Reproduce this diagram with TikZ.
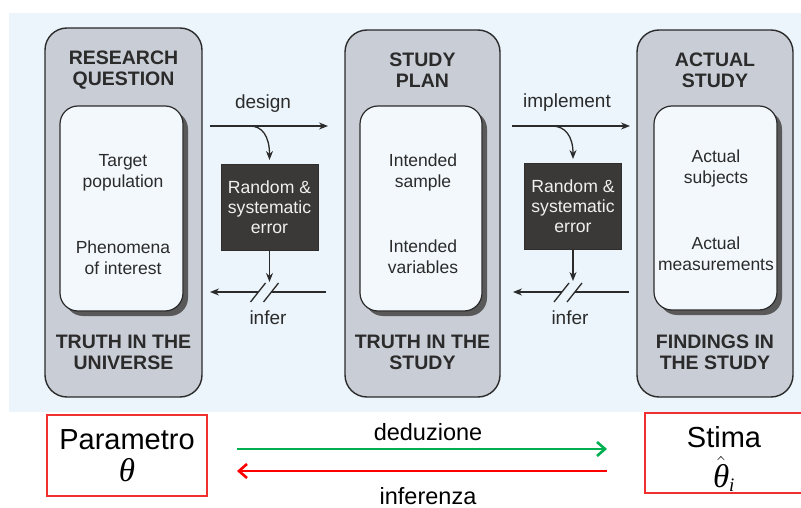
\RequirePackage{fix-cm}
\documentclass[tikz,border=0pt]{standalone}
\usepackage{fontspec}
\setmainfont{Liberation Sans}
\newfontfamily\thetafont{Liberation Serif}
\usetikzlibrary{arrows.meta,shadows}
\definecolor{panel}{HTML}{EBF5FB}
\definecolor{outerfill}{HTML}{C9CDD6}
\definecolor{innerfill}{HTML}{F2F8FC}
\definecolor{darkbox}{HTML}{3B3937}
\definecolor{ink}{HTML}{2B2B2B}
\definecolor{grn}{HTML}{00B050}
\definecolor{rd}{HTML}{FF0000}
\definecolor{boxred}{HTML}{F03030}
\newcommand{\thsym}{\hbox{\fontsize{33}{33}\selectfont\thetafont\itshape θ}}
\begin{document}
\begin{tikzpicture}[x=1pt,y=-1pt,
  outerbox/.style={draw=ink, line width=1.4pt, fill=outerfill, rounded corners=22pt, inner sep=0pt},
  innerbox/.style={draw=ink, line width=1.2pt, fill=innerfill, rounded corners=18pt, inner sep=0pt,
     drop shadow={shadow xshift=5pt,shadow yshift=-5pt,fill=black!65,opacity=1}},
  title/.style={font=\fontsize{19.5}{21}\selectfont\bfseries, text=ink, align=center},
  body/.style={font=\fontsize{17.5}{21}\selectfont, text=ink, align=center},
  lab/.style={font=\fontsize{19}{21}\selectfont, text=ink},
  errbox/.style={fill=darkbox, draw=darkbox!80!black, text=white!94!black,
     font=\fontsize{17.6}{20}\selectfont, align=center, minimum width=97pt, minimum height=86pt, inner sep=0pt},
  arr/.style={draw=ink, line width=1.3pt, -{Stealth[length=9pt,width=7pt]}},
  plain/.style={draw=ink, line width=1.3pt},
  big/.style={font=\fontsize{29}{34}\selectfont, align=center, text=black},
  redbox/.style={draw=boxred, line width=1.3pt, inner sep=0pt},
  bigarr/.style={line width=2.6pt, -{Straight Barb[length=8pt,width=14pt,line width=2.6pt]}},
  botlab/.style={font=\fontsize{23.5}{26}\selectfont, text=black, inner sep=0pt}
]
\useasboundingbox (0,0) rectangle (801,508);
\fill[panel] (9,13) rectangle (801,412);

% outer boxes
\node[outerbox, minimum width=157pt, minimum height=369pt] (b1) at (123.5,212.5) {};
\node[outerbox, minimum width=155pt, minimum height=367pt] (b2) at (422.5,213.5) {};
\node[outerbox, minimum width=156pt, minimum height=367pt] (b3) at (715,213.5) {};

% inner boxes
\node[innerbox, minimum width=123pt, minimum height=205pt] (i1) at (121.5,208.5) {};
\node[innerbox, minimum width=122pt, minimum height=205pt] (i2) at (421,208.5) {};
\node[innerbox, minimum width=123pt, minimum height=204pt] (i3) at (715.5,208) {};

% titles
\node[title] (t1) at (123.5,70.5) {RESEARCH\\QUESTION};
\node[title] (t2) at (422.5,70.5) {STUDY\\PLAN};
\node[title] (t3) at (715,70.5) {ACTUAL\\STUDY};
\node[title] (u1) at (123.5,352.5) {TRUTH IN THE\\UNIVERSE};
\node[title] (u2) at (422.5,352.5) {TRUTH IN THE\\STUDY};
\node[title] (u3) at (715,352.5) {FINDINGS IN\\THE STUDY};

% inner texts
\node[body] (p1) at (123,173) {Target\\population};
\node[body] (p2) at (123,258) {Phenomena\\of interest};
\node[body] (q1) at (423,172) {Intended\\sample};
\node[body] (q2) at (423,257) {Intended\\variables};
\node[body] (r1) at (716,168) {Actual\\subjects};
\node[body] (r2) at (716,254) {Actual\\measurements};

% error boxes
\node[errbox] (e1) at (269.5,207) {Random \&\\systematic\\error};
\node[errbox] (e2) at (573,206) {Random \&\\systematic\\error};

% design arrows
\coordinate (d1s) at (210,126);
\coordinate (d1e) at (328,126);
\coordinate (d1c) at (250,126);
\coordinate (d1t) at (269.5,160);
\draw[arr] (d1s) -- (d1e);
\draw[arr] (d1c) .. controls (262,126) and (269.5,136) .. (d1t);
\node[lab] (design) at (263,104) {design};
\coordinate (e1d) at (269.5,282);
\draw[arr] (e1.south) -- (e1d);
\coordinate (f1r) at (326,292);
\coordinate (f1l) at (210,292);
\coordinate (g1a) at (258,292);
\coordinate (g1b) at (271,292);
\draw[plain] (f1r) -- (g1b);
\draw[arr] (g1a) -- (f1l);
\draw[plain] (250.5,302) -- (265.5,283);
\draw[plain] (263.5,302) -- (278.5,283);
\node[lab] (infer1) at (268,318) {infer};

% implement arrows
\coordinate (d2s) at (512,126);
\coordinate (d2e) at (630,126);
\coordinate (d2c) at (552,126);
\coordinate (d2t) at (573,159);
\draw[arr] (d2s) -- (d2e);
\draw[arr] (d2c) .. controls (565,126) and (573,136) .. (d2t);
\node[lab] (implement) at (567,103) {implement};
\coordinate (e2d) at (573,281);
\draw[arr] (e2.south) -- (e2d);
\coordinate (f2r) at (629,292);
\coordinate (f2l) at (513,292);
\coordinate (g2a) at (561.5,292);
\coordinate (g2b) at (574.5,292);
\draw[plain] (f2r) -- (g2b);
\draw[arr] (g2a) -- (f2l);
\draw[plain] (554,302) -- (569,283);
\draw[plain] (567,302) -- (582,283);
\node[lab] (infer2) at (570,318) {infer};

% bottom part
\node[redbox, big, minimum width=160pt, minimum height=81pt] (par) at (127,455.5) {Parametro\\[-2pt]\thsym};
\node[redbox, big, minimum width=162pt, minimum height=80pt] (sti) at (726,453) {};
\node[big] (stiname) at (724,437) {Stima};
\node[big, inner sep=0pt] (stisym) at (724,474) {$\hat{\thsym}_{\hbox{\fontsize{19}{19}\selectfont\thetafont\itshape i}}$};
\coordinate (gs) at (237,449);
\coordinate (ge) at (607,449);
\coordinate (rs) at (607,471);
\coordinate (re) at (237,471);
\draw[bigarr, grn] (gs) -- (ge);
\draw[bigarr, rd] (rs) -- (re);
\node[botlab] (ded) at (428,432) {deduzione};
\node[botlab] (inf) at (428,496) {inferenza};
\end{tikzpicture}
\end{document}
